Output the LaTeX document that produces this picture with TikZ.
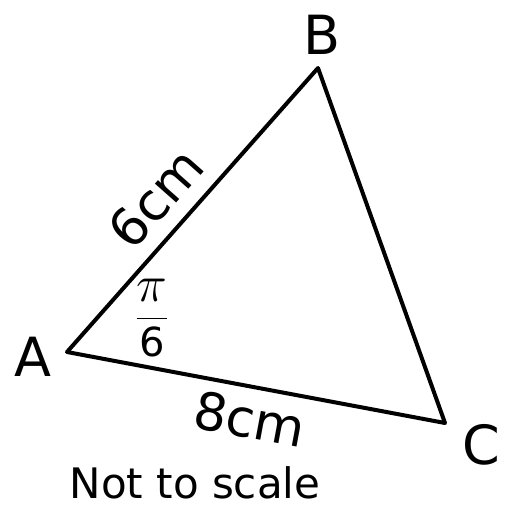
\RequirePackage{fix-cm}
\documentclass[tikz,border=0pt]{standalone}
\usepackage{amsmath}
\usepackage{fontspec}
\setmainfont{DejaVu Sans}
\begin{document}
\begin{tikzpicture}[x=1pt,y=-1pt,
  side/.style={line width=4pt,line join=round},
  vlabel/.style={font=\fontsize{54}{60}\selectfont,inner sep=0pt},
  len/.style={font=\fontsize{52}{58}\selectfont,inner sep=0pt},
  note/.style={font=\fontsize{42}{48}\selectfont,inner sep=0pt}]
\useasboundingbox (0,0) rectangle (506,507);
\coordinate (A) at (67,352);
\coordinate (B) at (318,68);
\coordinate (C) at (445,423);
\draw[side] (A) -- (B) -- (C) -- cycle;
\node[vlabel] (la) at (33,357) {A};
\node[vlabel] (lb) at (322,35) {B};
\node[vlabel] (lc) at (481,445) {C};
\node[len,rotate=48.5] (ab) at (156,198) {6cm};
\node[len,rotate=-10.6] (ac) at (250,419) {8cm};
\node[inner sep=0pt,font=\fontsize{40}{46}\selectfont] (ang) at (152,318) {$\dfrac{\scalebox{1.3}{$\pi$}}{\mbox{6}}$};
\node[note,anchor=base] (ns) at (195,498) {Not to scale};
\end{tikzpicture}
\end{document}
